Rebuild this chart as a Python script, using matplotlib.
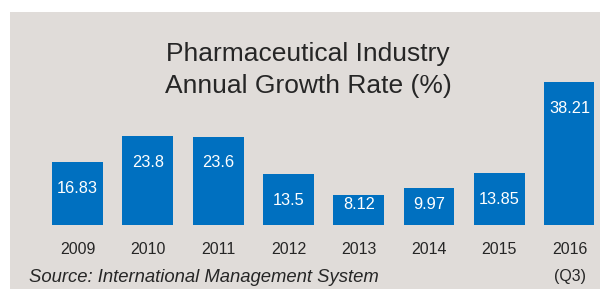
import matplotlib
matplotlib.use("Agg")
import matplotlib.pyplot as plt
from matplotlib.patches import Rectangle
from matplotlib.transforms import blended_transform_factory

years = ["2009", "2010", "2011", "2012", "2013", "2014", "2015", "2016"]
sublabels = ["", "", "", "", "", "", "", "(Q3)"]
growth = [16.83, 23.8, 23.6, 13.5, 8.12, 9.97, 13.85, 38.21]
value_labels = ["16.83", "23.8", "23.6", "13.5", "8.12", "9.97", "13.85", "38.21"]
title_lines = ["Pharmaceutical Industry", "Annual Growth Rate (%)"]
source = "Source: International Management System"

BG = "#e0dcd9"
BAR = "#0070c0"
TXT = "#262626"
FONT = ["Liberation Sans", "DejaVu Sans"]
plt.rcParams["font.family"] = FONT

W, H = 600, 289
fig = plt.figure(figsize=(W / 100, H / 100), dpi=100, facecolor="white")
fig.patches.append(Rectangle((10 / W, 0), 1 - 10 / W, (H - 12) / H,
                             transform=fig.transFigure, facecolor=BG,
                             edgecolor="none", zorder=-10))

step = 70.3
left_px = 77.5 - 0.5 * step
ax = fig.add_axes([left_px / W, (H - 225) / H, 7.85 * step / W, 40 * 3.743 / H])
ax.set_facecolor("none")
ax.set_xlim(-0.5, 7.35)
ax.set_ylim(0, 40)
for s in ax.spines.values():
    s.set_visible(False)
ax.set_yticks([])

x = list(range(len(years)))
ax.bar(x, growth, width=0.725, color=BAR, zorder=2)
for xi, v, lab in zip(x, growth, value_labels):
    ax.text(xi, max(v - 7.0, 5.4), lab, ha="center", va="center",
            color="white", fontsize=11.8, zorder=3)

ax.set_xticks(x)
ax.set_xticklabels(years, fontsize=11.5, color=TXT)
ax.tick_params(axis="x", length=0, pad=12)

trans = blended_transform_factory(ax.transData, fig.transFigure)
for xi, sl in zip(x, sublabels):
    if sl:
        ax.text(xi, (H - 276) / H, sl, transform=trans, ha="center",
                va="center", fontsize=11.5, color=TXT)

fig.text(308 / W, (H - 61) / H, title_lines[0], ha="center", va="baseline",
         fontsize=19, color=TXT)
fig.text(308 / W, (H - 93.3) / H, title_lines[1], ha="center", va="baseline",
         fontsize=19, color=TXT)
fig.text(29 / W, (H - 282) / H, source, ha="left", va="baseline",
         fontsize=13.3, style="italic", color=TXT)

fig.savefig("out.png", dpi=100, facecolor="white")
